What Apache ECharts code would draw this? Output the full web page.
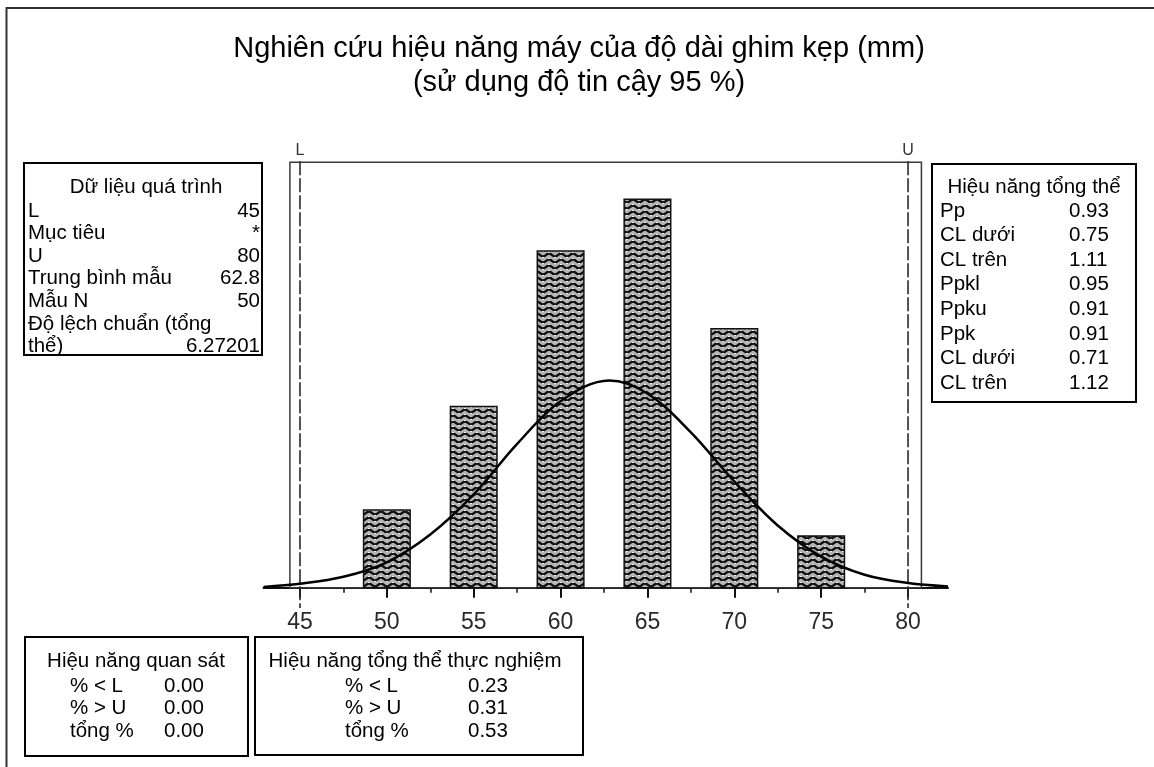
<!DOCTYPE html>
<html><head><meta charset="utf-8">
<script src="https://cdn.jsdelivr.net/npm/echarts@6/dist/echarts.min.js"></script>
<style>html,body{margin:0;padding:0;background:#fff}#c{width:1154px;height:767px}</style>
</head><body><div id="c"></div>
<script>
// ---------- data ----------
const titleLines = ['Nghiên cứu hiệu năng máy của độ dài ghim kẹp (mm)', '(sử dụng độ tin cậy 95 %)'];
const binCenters = [50, 55, 60, 65, 70, 75];
const binCounts = [3, 7, 13, 15, 10, 2];
const curveX = [42.9, 45, 47.5, 50, 52.5, 55, 57.5, 60, 62.8, 65, 67.5, 70, 72.5, 75, 77.5, 80, 82.3];
const curveY = [0.03, 0.15, 0.42, 0.98, 2.05, 3.6, 5.55, 7.2, 8.0, 7.5, 6.0, 4.1, 2.4, 1.2, 0.5, 0.18, 0.05];
const specLimits = [45, 80];
const specNames = ['L', 'U'];
const majorTicks = [45, 50, 55, 60, 65, 70, 75, 80];
const minorTicks = [47.5, 52.5, 57.5, 62.5, 67.5, 72.5, 77.5];

const processTitle = 'Dữ liệu quá trình';
const processLabels = ['L', 'Mục tiêu', 'U', 'Trung bình mẫu', 'Mẫu N', 'Độ lệch chuẩn (tổng', 'thể)'];
const processValues = ['45', '*', '80', '62.8', '50', '', '6.27201'];
const overallTitle = 'Hiệu năng tổng thể';
const overallLabels = ['Pp', 'CL dưới', 'CL trên', 'Ppkl', 'Ppku', 'Ppk', 'CL dưới', 'CL trên'];
const overallValues = ['0.93', '0.75', '1.11', '0.95', '0.91', '0.91', '0.71', '1.12'];
const observedTitle = 'Hiệu năng quan sát';
const observedLabels = ['% < L', '% > U', 'tổng %'];
const observedValues = ['0.00', '0.00', '0.00'];
const expectedTitle = 'Hiệu năng tổng thể thực nghiệm';
const expectedLabels = ['% < L', '% > U', 'tổng %'];
const expectedValues = ['0.23', '0.31', '0.53'];

// ---------- layout / style ----------
const FONT = '"Liberation Sans", Arial, sans-serif';
const X_MIN = 42.9, X_MAX = 82.3, Y_MAX = 17;
const BAR_W = 2.68;
const FRAME = { left: 44.42, right: 80.77, top: 16.43 };
const SPEC_SPAN = { bottom: -0.78, top: 16.47 };
const BOX_FONT = 20.5;

function makePattern() {
  const c = document.createElement('canvas');
  c.width = 12; c.height = 6;
  const g = c.getContext('2d');
  g.fillStyle = '#b4b4b4'; g.fillRect(0, 0, 12, 6);
  g.strokeStyle = '#101010'; g.lineWidth = 2.4;
  g.beginPath();
  for (let i = -1; i <= 13; i += 0.5) {
    const y = 3 + 1.4 * Math.sin(i / 6 * Math.PI);
    if (i === -1) g.moveTo(i, y); else g.lineTo(i, y);
  }
  g.stroke();
  g.fillStyle = '#f0f0f0';
  g.fillRect(2, 5, 2, 1); g.fillRect(8, 0, 2, 1);
  return c;
}
const patternCanvas = makePattern();

function textEl(x, y, text, size, align, color) {
  return { type: 'text', x: x, y: y, silent: true,
    style: { text: text, font: size + 'px ' + FONT, fill: color || '#000', align: align, verticalAlign: 'middle' } };
}
function boxGroup(rect, title, titleX, titleY, labels, labelX, values, valueX, valueAlign, rowY0, rowGap) {
  const ch = [{ type: 'rect', shape: rect, style: { fill: '#fff', stroke: '#000', lineWidth: 2 } }];
  ch.push(textEl(titleX, titleY, title, BOX_FONT, 'center'));
  labels.forEach((l, i) => {
    ch.push(textEl(labelX, rowY0 + i * rowGap, l, BOX_FONT, 'left'));
    if (values[i]) ch.push(textEl(valueX, rowY0 + i * rowGap, values[i], BOX_FONT, valueAlign));
  });
  return { type: 'group', children: ch };
}

const chart = echarts.init(document.getElementById('c'), null, { renderer: 'canvas' });
const option = {
  animation: false,
  backgroundColor: '#fff',
  grid: { left: 263.5, right: 206, top: 587.7 - Y_MAX * 25.9, bottom: 767 - 587.7 },
  xAxis: [{
    type: 'value', min: X_MIN, max: X_MAX, position: 'bottom',
    axisLine: { show: true, onZero: false, lineStyle: { color: '#111', width: 2 } },
    axisTick: { show: true, customValues: majorTicks, length: 10, lineStyle: { color: '#111', width: 2 } },
    axisLabel: { show: true, customValues: majorTicks, margin: 23, fontSize: 23, color: '#2a2a2a', fontFamily: FONT },
    splitLine: { show: false }
  }, {
    type: 'value', min: X_MIN, max: X_MAX, position: 'bottom',
    axisLine: { show: false },
    axisTick: { show: true, customValues: minorTicks, length: 5, lineStyle: { color: '#111', width: 1.5 } },
    axisLabel: { show: false }, splitLine: { show: false }
  }],
  yAxis: { type: 'value', min: 0, max: Y_MAX, show: false },
  series: [
    { // plot frame
      type: 'custom', xAxisIndex: 0, silent: true, data: [[FRAME.left, FRAME.top]],
      renderItem: function (p, api) {
        const a = api.coord([FRAME.left, FRAME.top]);
        const b = api.coord([FRAME.right, 0]);
        return { type: 'rect', shape: { x: a[0], y: a[1], width: b[0] - a[0], height: b[1] - a[1] },
          style: { fill: 'none', stroke: '#3a3a3a', lineWidth: 1.5 } };
      }
    },
    { // histogram bars
      type: 'custom', xAxisIndex: 0, silent: true,
      data: binCenters.map((c, i) => [c, binCounts[i]]),
      renderItem: function (p, api) {
        const x = api.value(0), v = api.value(1);
        const a = api.coord([x - BAR_W / 2, v]);
        const b = api.coord([x + BAR_W / 2, 0]);
        return { type: 'rect', shape: { x: a[0], y: a[1], width: b[0] - a[0], height: b[1] - a[1] },
          style: { fill: { image: patternCanvas, repeat: 'repeat' }, stroke: '#111', lineWidth: 1.5 } };
      }
    },
    { // spec limits
      type: 'custom', xAxisIndex: 0, silent: true,
      data: specLimits.map(v => [v, 0]),
      renderItem: function (p, api) {
        const x = api.value(0);
        const a = api.coord([x, SPEC_SPAN.top]);
        const b = api.coord([x, SPEC_SPAN.bottom]);
        return { type: 'group', children: [
          { type: 'line', shape: { x1: a[0], y1: a[1], x2: b[0], y2: b[1] },
            style: { stroke: '#2a2a2a', lineWidth: 1.6, lineDash: [14, 3] } },
          { type: 'text', x: a[0], y: a[1] - 11,
            style: { text: specNames[p.dataIndex], font: '16px ' + FONT, fill: '#333', align: 'center', verticalAlign: 'middle' } }
        ] };
      }
    },
    { // fitted curve
      type: 'line', xAxisIndex: 0, silent: true, smooth: 0.35, showSymbol: false, symbol: 'none',
      data: curveX.map((x, i) => [x, curveY[i]]),
      lineStyle: { color: '#000', width: 2.5 }, z: 5
    }
  ],
  graphic: { elements: [
    { type: 'rect', shape: { x: 6.5, y: 8, width: 1300, height: 900 }, silent: true,
      style: { fill: 'none', stroke: '#333', lineWidth: 2 }, z: -10 },
    textEl(579, 49, titleLines[0], 29, 'center'),
    textEl(579, 83, titleLines[1], 29, 'center'),
    boxGroup({ x: 24, y: 163, width: 238, height: 192 }, processTitle, 146, 187,
      processLabels, 28, processValues, 260, 'right', 211, 22.6),
    boxGroup({ x: 932, y: 164, width: 204, height: 238 }, overallTitle, 1034, 187,
      overallLabels, 940, overallValues, 1069, 'left', 211, 24.6),
    boxGroup({ x: 25, y: 637, width: 223, height: 119 }, observedTitle, 136, 661,
      observedLabels, 70, observedValues, 164, 'left', 686, 22.8),
    boxGroup({ x: 255, y: 637, width: 328, height: 118 }, expectedTitle, 415, 661,
      expectedLabels, 345, expectedValues, 468, 'left', 686, 22.8)
  ] }
};
chart.setOption(option);
</script></body></html>
